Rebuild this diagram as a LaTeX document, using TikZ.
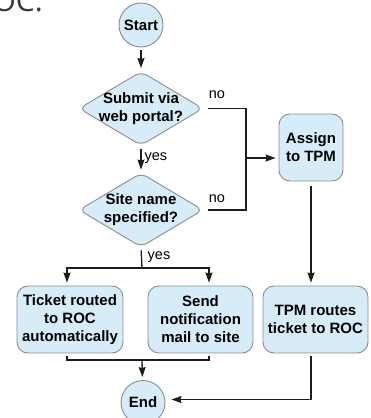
\documentclass[tikz,border=0pt]{standalone}
\usepackage{fontspec}
\setmainfont{Liberation Sans}
\newfontfamily\headfont{Open Sans}
\usetikzlibrary{shapes.geometric,arrows.meta}

\definecolor{boxfill}{RGB}{214,236,248}
\definecolor{boxline}{RGB}{140,140,140}
\definecolor{wire}{RGB}{28,28,28}
\definecolor{headgray}{RGB}{55,55,55}

\tikzset{
  term/.style={circle, draw=boxline, fill=boxfill, line width=0.9pt,
    minimum size=44pt, inner sep=0pt, font=\fontsize{15}{18}\selectfont\bfseries},
  decision/.style={diamond, draw=boxline, fill=boxfill, line width=0.9pt,
    rounded corners=7pt, minimum width=124pt, minimum height=74pt, inner sep=0pt},
  dtext/.style={align=center, inner sep=0pt, font=\fontsize{15}{18}\selectfont\bfseries},
  action/.style={rectangle, draw=boxline, fill=boxfill, line width=0.9pt,
    rounded corners=11pt, minimum height=67pt, inner sep=2pt, align=center,
    font=\fontsize{15}{18}\selectfont\bfseries},
  wireline/.style={draw=wire, line width=1.3pt},
  flow/.style={wireline, -{Stealth[length=10pt,width=7pt,inset=1pt]},
    shorten >=3pt, shorten <=3pt},
  tag/.style={inner sep=0pt, font=\fontsize{14.5}{17}\selectfont}
}

\begin{document}
\begin{tikzpicture}[x=1pt, y=-1pt]
\useasboundingbox (0,0) rectangle (370,418);

% fragment of the surrounding heading
\node[anchor=base east, inner sep=0pt, text=headgray,
  font=\headfont\fontsize{30}{36}\selectfont] (head) at (43,11.5) {OC.};

% nodes
\node[term] (start) at (141,25) {Start};

\node[decision] (d1) at (141,108.5) {};
\node[dtext] (d1t) at (d1.center) {Submit via\\web portal?};

\node[decision] (d2) at (141,210) {};
\node[dtext] (d2t) at (d2.center) {Site name\\specified?};

\node[action, minimum width=64pt] (assign) at (311,147.5) {Assign\\to TPM};

\node[action, minimum width=106pt] (b1) at (70,319.5) {Ticket routed\\to ROC\\automatically};
\node[action, minimum width=105pt] (b2) at (200.5,319.5) {Send\\notification\\mail to site};
\node[action, minimum width=105pt] (b3) at (315.5,319.5) {TPM routes\\ticket to ROC};

\node[term] (end) at (143,402.5) {End};

% junction points
\coordinate (jn) at (246,158);
\coordinate (split) at (142,268);
\coordinate (merge) at (142,360);

% connectors
\draw[flow] (start) -- (d1);
\draw[flow] (d1) -- (d2) node[tag, pos=0.45, right=3pt] (yes1) {yes};

\draw[wireline] ([xshift=5pt]d1.east) -| (jn) |- ([xshift=5pt]d2.east);
\node[tag] (no1) at (217,95) {no};
\node[tag] (no2) at (217,199) {no};
\draw[flow, shorten <=0pt] (jn) -- (jn -| assign.west);

\draw[wireline, shorten <=3pt] (d2.south) -- (split);
\node[tag] (yes2) at (159,257) {yes};
\draw[flow, shorten <=0pt] (split) -| ([xshift=-3pt]b1.north);
\draw[flow, shorten <=0pt] (split) -| ([xshift=8.5pt]b2.north);

\draw[wireline, shorten <=3pt] ([xshift=-3pt]b1.south) |- (merge);
\draw[wireline, shorten <=3pt] ([xshift=8.5pt]b2.south) |- (merge);
\draw[flow, shorten <=0pt] (merge) -- (end);

\draw[flow, shorten <=5pt] (assign.south) -- (assign.south |- b3.north);
\draw[flow, shorten >=6pt] (assign.south |- b3.south) |- ([yshift=3pt]end.east);
\end{tikzpicture}
\end{document}
